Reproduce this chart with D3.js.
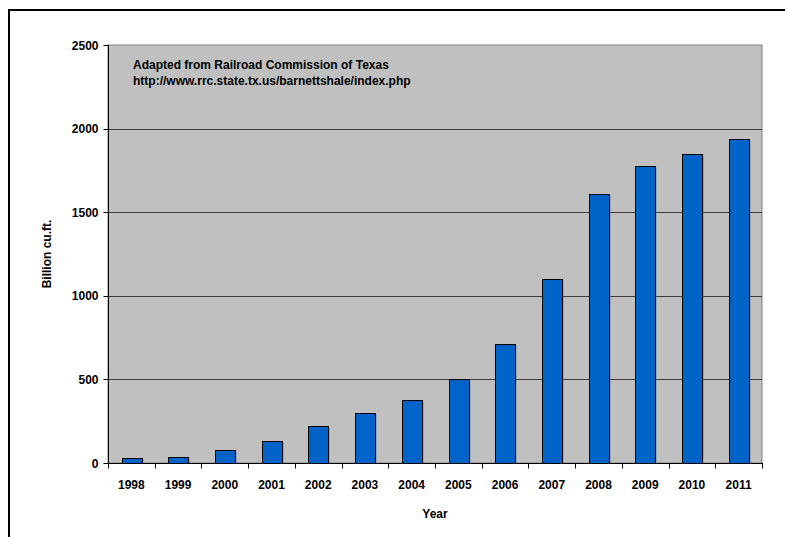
<!DOCTYPE html>
<html>
<head>
<meta charset="utf-8">
<script src="https://cdn.jsdelivr.net/npm/d3@7"></script>
<style>
  html, body { margin: 0; padding: 0; background: #fff; }
  svg { display: block; font-family: "Liberation Sans", Arial, sans-serif; }
</style>
</head>
<body>
<svg id="chart" width="785" height="537"></svg>
<script>
// Barnett Shale annual gas production (billion cubic feet)
const years = ["1998", "1999", "2000", "2001", "2002", "2003", "2004",
               "2005", "2006", "2007", "2008", "2009", "2010", "2011"];
const production = [32, 38, 76, 133, 219, 301, 378, 501, 714, 1101, 1609, 1775, 1846, 1936];
const yTicks = [0, 500, 1000, 1500, 2000, 2500];
const noteLines = ["Adapted from Railroad Commission of Texas",
                   "http://www.rrc.state.tx.us/barnettshale/index.php"];

const svg = d3.select("#chart");
const plot = { left: 108, top: 45, right: 762, bottom: 463 };
const fontSize = 12;

// outer chart frame (top and left edges visible)
svg.append("path")
  .attr("d", "M9,800 V10 H800")
  .attr("fill", "none").attr("stroke", "#000").attr("stroke-width", 2);

const x = d3.scaleBand().domain(years).range([plot.left, plot.right]).paddingInner(0).paddingOuter(0);
const y = d3.scaleLinear().domain([0, 2500]).range([plot.bottom, plot.top]);

// plot area
svg.append("rect")
  .attr("x", plot.left).attr("y", plot.top)
  .attr("width", plot.right - plot.left).attr("height", plot.bottom - plot.top)
  .attr("fill", "#c0c0c0").attr("stroke", "#808080").attr("stroke-width", 1);

// horizontal gridlines
svg.append("g").selectAll("line").data(yTicks.filter(d => d > 0 && d < 2500)).join("line")
  .attr("x1", plot.left).attr("x2", plot.right)
  .attr("y1", d => Math.round(y(d)) + 0.5).attr("y2", d => Math.round(y(d)) + 0.5)
  .attr("stroke", "#3a3a3a").attr("stroke-width", 1);

// bars with a soft shadow on the right
const barW = x.bandwidth() * 0.42;
const bars = svg.append("g");
bars.selectAll("rect.shadow").data(years).join("rect")
  .attr("class", "shadow")
  .attr("x", (d, i) => Math.round(x(d) + (x.bandwidth() - barW) / 2) + 1.5)
  .attr("y", (d, i) => Math.round(y(production[i])) + 1.5)
  .attr("width", Math.round(barW))
  .attr("height", (d, i) => Math.max(0, plot.bottom - Math.round(y(production[i])) - 1.5))
  .attr("fill", "#6a6a6a").attr("opacity", 0.6);
bars.selectAll("rect.bar").data(years).join("rect")
  .attr("class", "bar")
  .attr("x", d => Math.round(x(d) + (x.bandwidth() - barW) / 2) + 0.5)
  .attr("y", (d, i) => Math.round(y(production[i])) + 0.5)
  .attr("width", Math.round(barW))
  .attr("height", (d, i) => plot.bottom - Math.round(y(production[i])))
  .attr("fill", "#0063c8").attr("stroke", "#000").attr("stroke-width", 1);

// x axis
const xAxis = svg.append("g")
  .attr("transform", `translate(0,${plot.bottom + 0.5})`);
xAxis.append("line").attr("x1", plot.left).attr("x2", plot.right + 1)
  .attr("stroke", "#000").attr("stroke-width", 1);
xAxis.selectAll("line.tick").data(d3.range(years.length + 1)).join("line")
  .attr("class", "tick")
  .attr("x1", i => Math.round(plot.left + i * x.step()) + 0.5)
  .attr("x2", i => Math.round(plot.left + i * x.step()) + 0.5)
  .attr("y1", 0).attr("y2", 5)
  .attr("stroke", "#000");
xAxis.selectAll("text").data(years).join("text")
  .attr("x", d => x(d) + x.bandwidth() / 2)
  .attr("y", 25)
  .attr("text-anchor", "middle")
  .attr("font-size", fontSize).attr("font-weight", "bold").attr("fill", "#000")
  .text(d => d);

// y axis
const yAxis = svg.append("g").attr("transform", `translate(${plot.left + 0.5},0)`);
yAxis.append("line").attr("y1", plot.top).attr("y2", plot.bottom)
  .attr("stroke", "#000");
yAxis.selectAll("line.tick").data(yTicks).join("line")
  .attr("class", "tick")
  .attr("x1", -5).attr("x2", 0)
  .attr("y1", d => Math.round(y(d)) + 0.5).attr("y2", d => Math.round(y(d)) + 0.5)
  .attr("stroke", "#000");
yAxis.selectAll("text").data(yTicks).join("text")
  .attr("x", -10)
  .attr("y", d => y(d) + 4.5)
  .attr("text-anchor", "end")
  .attr("font-size", fontSize).attr("font-weight", "bold").attr("fill", "#000")
  .text(d => d);

// axis titles
svg.append("text")
  .attr("x", (plot.left + plot.right) / 2).attr("y", 518)
  .attr("text-anchor", "middle")
  .attr("font-size", fontSize).attr("font-weight", "bold")
  .text("Year");
svg.append("text")
  .attr("transform", `translate(51,${(plot.top + plot.bottom) / 2}) rotate(-90)`)
  .attr("text-anchor", "middle")
  .attr("font-size", fontSize).attr("font-weight", "bold")
  .text("Billion cu.ft.");

// source note inside the plot area
svg.append("g").selectAll("text").data(noteLines).join("text")
  .attr("x", 133).attr("y", (d, i) => 69 + i * 16)
  .attr("font-size", fontSize).attr("font-weight", "bold").attr("fill", "#000")
  .text(d => d);
</script>
</body>
</html>
